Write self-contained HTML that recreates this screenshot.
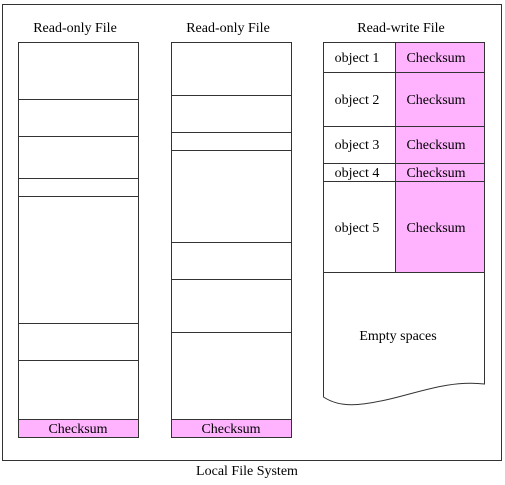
<!DOCTYPE html>
<html><head><style>html,body{margin:0;padding:0;background:#fff}</style></head><body>
<svg width="505" height="480" xmlns="http://www.w3.org/2000/svg" font-family="Liberation Serif, serif" font-size="14" fill="#000">
<rect x="2.5" y="4.5" width="499" height="456" fill="#fff" stroke="#333" stroke-width="1"/>
<text x="75" y="32" text-anchor="middle">Read-only File</text>
<text x="228" y="32" text-anchor="middle">Read-only File</text>
<text x="401" y="32" text-anchor="middle">Read-write File</text>
<g stroke="#333" stroke-width="1" fill="none">
<rect x="18.5" y="42.5" width="120" height="395" fill="#fff"/>
<rect x="18.5" y="419.5" width="120" height="18" fill="#ffb3ff"/>
<line x1="18" y1="99.5" x2="138" y2="99.5"/>
<line x1="18" y1="136.5" x2="138" y2="136.5"/>
<line x1="18" y1="178.5" x2="138" y2="178.5"/>
<line x1="18" y1="196.5" x2="138" y2="196.5"/>
<line x1="18" y1="323.5" x2="138" y2="323.5"/>
<line x1="18" y1="360.5" x2="138" y2="360.5"/>
<rect x="171.5" y="42.5" width="120" height="395" fill="#fff"/>
<rect x="171.5" y="419.5" width="120" height="18" fill="#ffb3ff"/>
<line x1="171" y1="95.5" x2="291" y2="95.5"/>
<line x1="171" y1="132.5" x2="291" y2="132.5"/>
<line x1="171" y1="150.5" x2="291" y2="150.5"/>
<line x1="171" y1="242.5" x2="291" y2="242.5"/>
<line x1="171" y1="279.5" x2="291" y2="279.5"/>
<line x1="171" y1="332.5" x2="291" y2="332.5"/>
<path d="M323.5 272.5 L323.5 397 C340 408 360 406 390 399 C420 392 450 380 484.5 384 L484.5 272.5 Z" fill="#fff"/>
<rect x="395.5" y="42.5" width="89" height="230" fill="#ffb3ff"/>
<rect x="323.5" y="42.5" width="161" height="230"/>
<line x1="323" y1="72.5" x2="484" y2="72.5"/>
<line x1="323" y1="126.5" x2="484" y2="126.5"/>
<line x1="323" y1="163.5" x2="484" y2="163.5"/>
<line x1="323" y1="181.5" x2="484" y2="181.5"/>
</g>
<text x="78" y="433" text-anchor="middle">Checksum</text>
<text x="231" y="433" text-anchor="middle">Checksum</text>
<text x="357" y="62" text-anchor="middle">object 1</text>
<text x="436" y="62" text-anchor="middle">Checksum</text>
<text x="357" y="104" text-anchor="middle">object 2</text>
<text x="436" y="104" text-anchor="middle">Checksum</text>
<text x="357" y="149" text-anchor="middle">object 3</text>
<text x="436" y="149" text-anchor="middle">Checksum</text>
<text x="357" y="177" text-anchor="middle">object 4</text>
<text x="436" y="177" text-anchor="middle">Checksum</text>
<text x="357" y="232" text-anchor="middle">object 5</text>
<text x="436" y="232" text-anchor="middle">Checksum</text>
<text x="398" y="340" text-anchor="middle">Empty spaces</text>
<text x="247" y="475" text-anchor="middle">Local File System</text>
</svg>
</body></html>
